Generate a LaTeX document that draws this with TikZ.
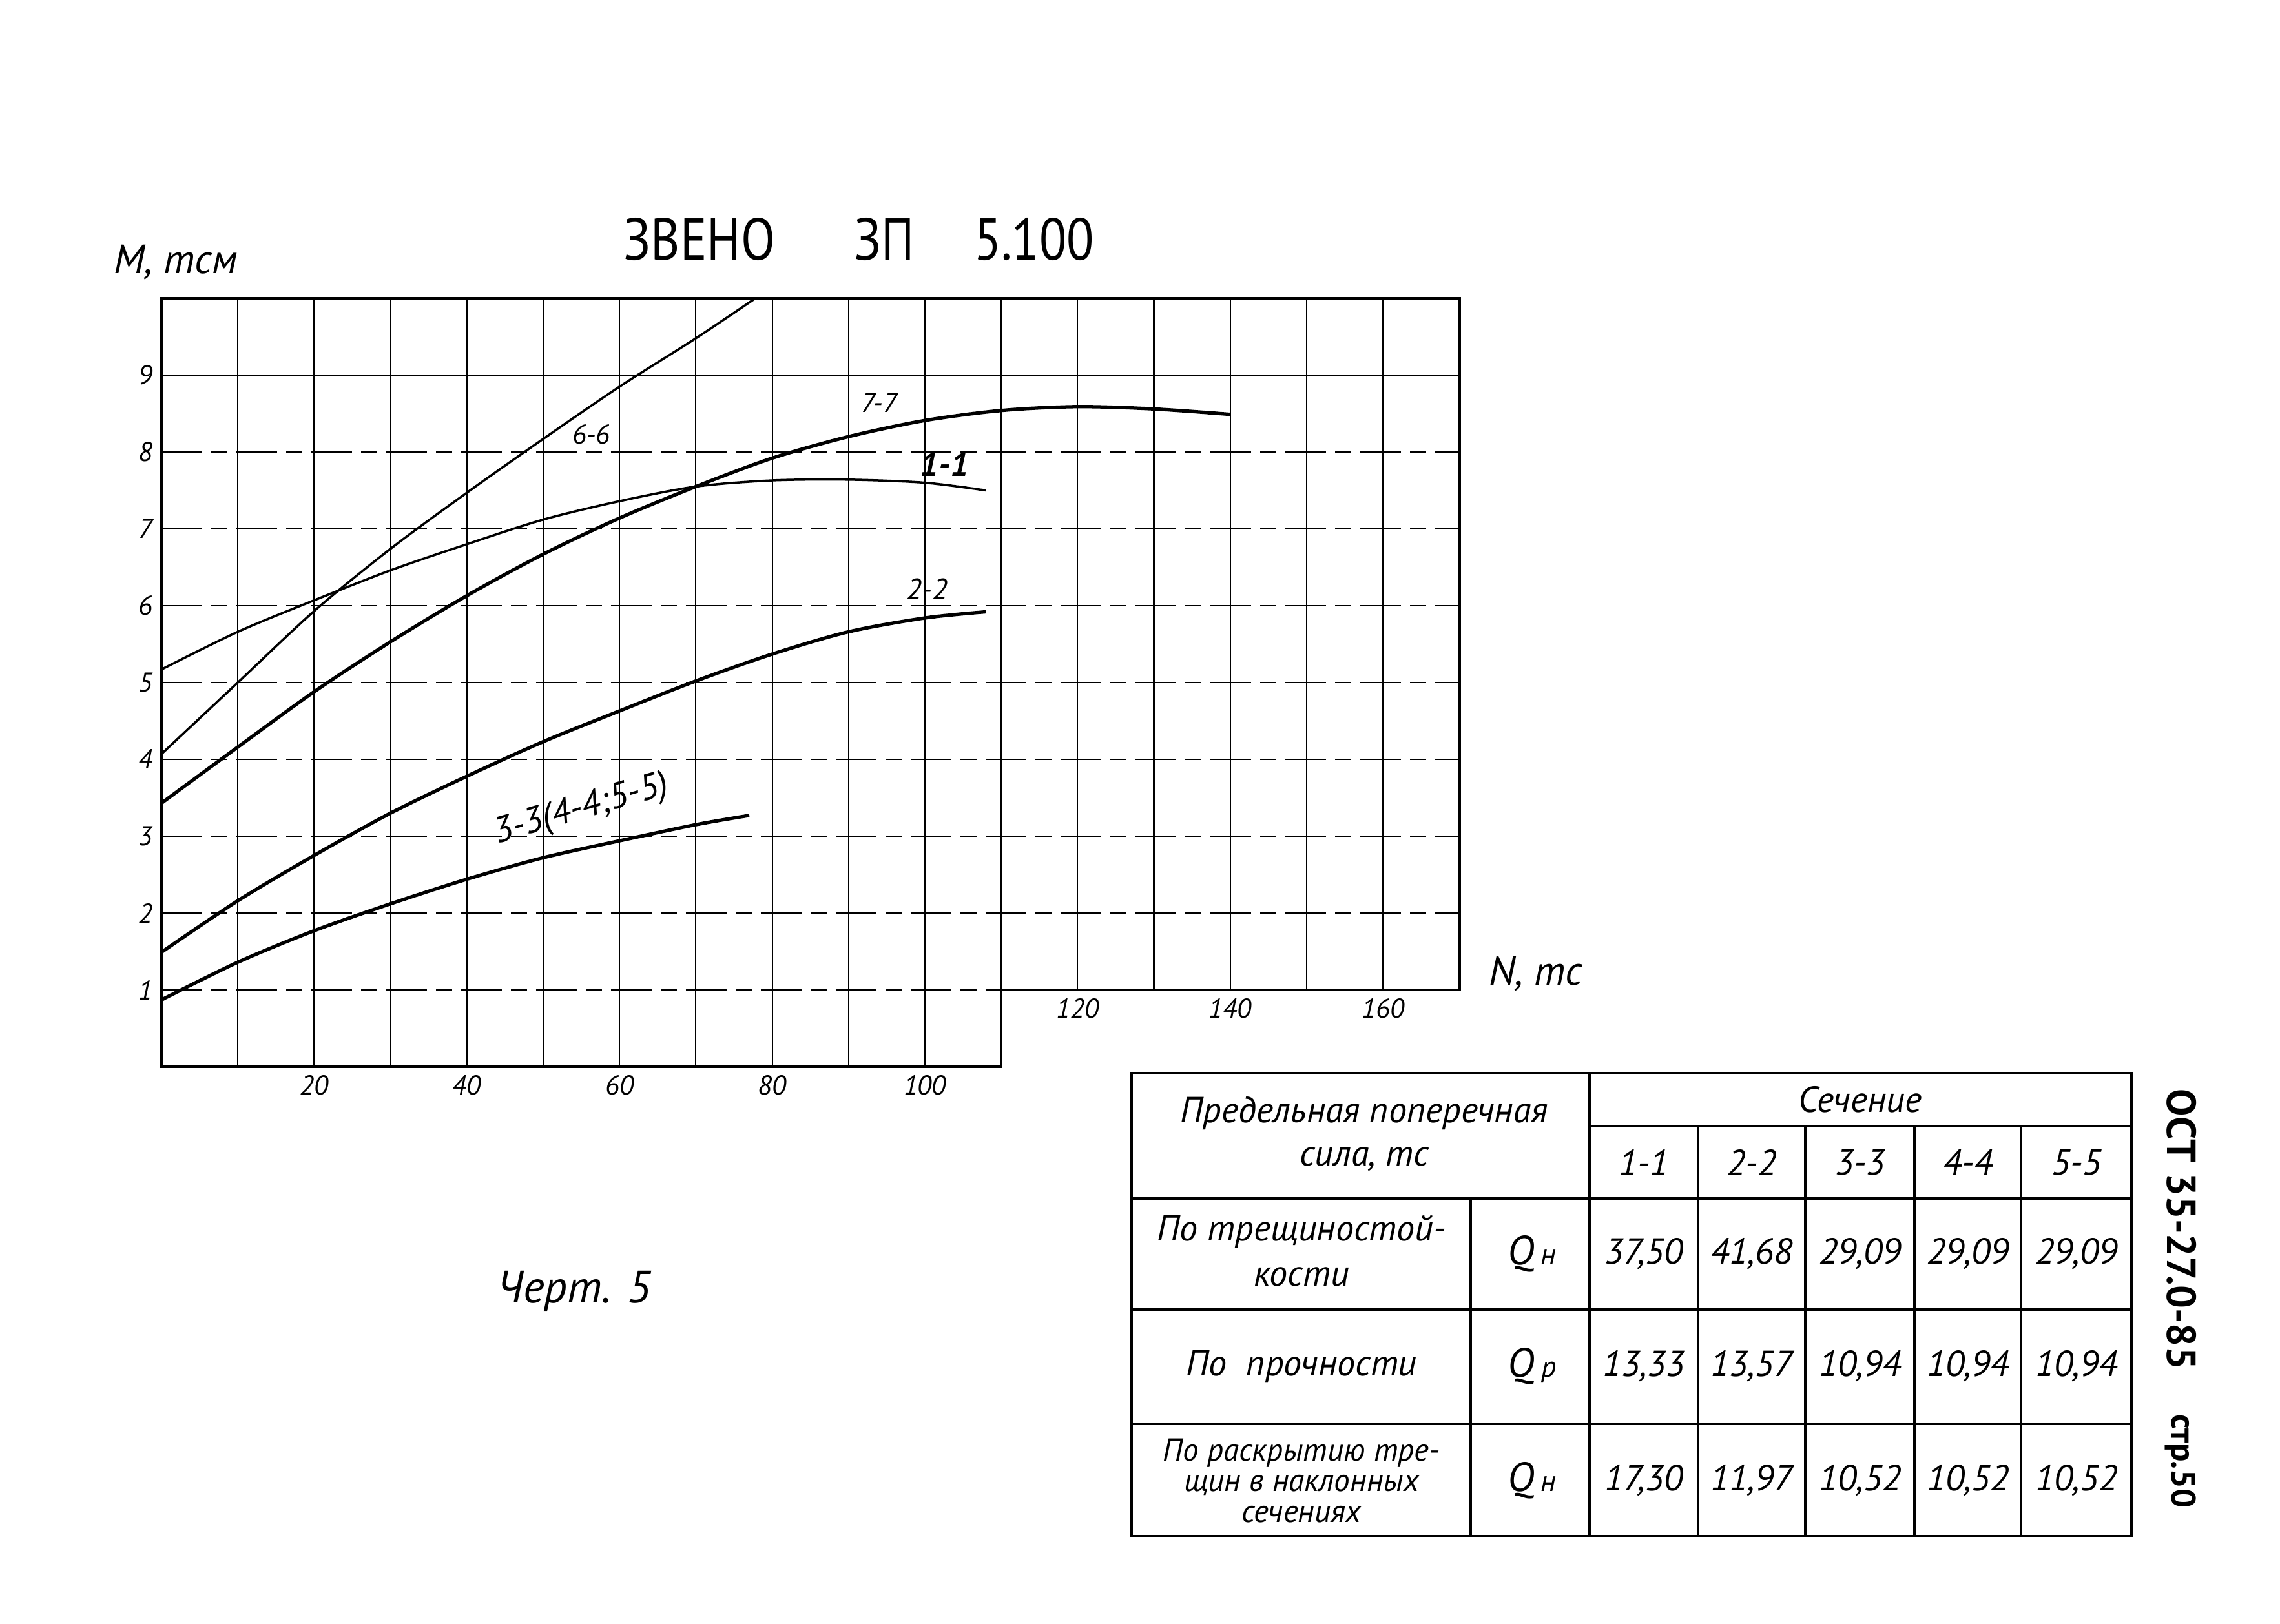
\documentclass[tikz,border=0pt]{standalone}
\usepackage{fontspec}
\usepackage{tikz}
\setmainfont{PT Sans}
\newfontfamily\titlefont[FakeStretch=0.85]{PT Sans}

\begin{document}
\begin{tikzpicture}[thick,
        gridline/.style={line width=0.6pt},
        gridhline/.style={line width=0.6pt, dash pattern=on 18pt off 4pt on 7pt off 4pt},
        chartframe/.style={line width=1.3pt},
        thincurve/.style={line width=1.0pt},
        boldcurve/.style={line width=1.5pt},
        every label/.style={font=\itshape\fontsize{12}{12}\selectfont},
        curvetext/.style={font=\itshape\fontsize{12}{12}\selectfont},
        handtext/.style={font=\itshape\fontsize{16}{19}\selectfont, align=center},
        numtext/.style={font=\itshape\fontsize{16}{16}\selectfont},
        titletext/.style={font=\titlefont\fontsize{26}{26}\selectfont},
        tableframe/.style={line width=1.3pt},
        tableline/.style={line width=1.0pt}]
        \useasboundingbox (0,0) rectangle (35.30,25.14);

        \node[titletext] (zveno) at (10.83,21.43) {ЗВЕНО};
        \node[titletext] (zp) at (13.69,21.43) {ЗП};
        \node[titletext] (num) at (16.01,21.43) {5.100};
        \node[font=\itshape\fontsize{18}{18}\selectfont] (axm) at (2.72,21.08) {M, тсм};
        \node[font=\itshape\fontsize{18}{18}\selectfont] (axn) at (23.78,10.06) {N, тс};
        \node[font=\itshape\fontsize{20}{20}\selectfont] (chert) at (8.89,5.14) {Черт. 5};

        \begin{scope}[shift={(2.5,8.62)}, x=0.1182cm, y=1.19cm]
        \coordinate[label=left:1] (m1) at (0,1);
        \coordinate[label=left:2] (m2) at (0,2);
        \coordinate[label=left:3] (m3) at (0,3);
        \coordinate[label=left:4] (m4) at (0,4);
        \coordinate[label=left:5] (m5) at (0,5);
        \coordinate[label=left:6] (m6) at (0,6);
        \coordinate[label=left:7] (m7) at (0,7);
        \coordinate[label=left:8] (m8) at (0,8);
        \coordinate[label=left:9] (m9) at (0,9);
        \coordinate[label=below:20] (n20) at (20,0);
        \coordinate[label=below:40] (n40) at (40,0);
        \coordinate[label=below:60] (n60) at (60,0);
        \coordinate[label=below:80] (n80) at (80,0);
        \coordinate[label=below:100] (n100) at (100,0);
        \coordinate[label=below:120] (n120) at (120,1);
        \coordinate[label=below:140] (n140) at (140,1);
        \coordinate[label=below:160] (n160) at (160,1);

        \draw[gridline] (10,0) -- (10,10);
        \draw[gridline] (20,0) -- (20,10);
        \draw[gridline] (30,0) -- (30,10);
        \draw[gridline] (40,0) -- (40,10);
        \draw[gridline] (50,0) -- (50,10);
        \draw[gridline] (60,0) -- (60,10);
        \draw[gridline] (70,0) -- (70,10);
        \draw[gridline] (80,0) -- (80,10);
        \draw[gridline] (90,0) -- (90,10);
        \draw[gridline] (100,0) -- (100,10);
        \draw[gridline] (110,1) -- (110,10);
        \draw[gridline] (120,1) -- (120,10);
        \draw[gridline] (130,1) -- (130,10);
        \draw[gridline] (140,1) -- (140,10);
        \draw[gridline] (150,1) -- (150,10);
        \draw[gridline] (160,1) -- (160,10);
        \draw[gridhline] (0,1) -- (110,1);
        \draw[gridhline] (0,2) -- (170,2);
        \draw[gridhline] (0,3) -- (170,3);
        \draw[gridhline] (0,4) -- (170,4);
        \draw[gridhline] (0,5) -- (170,5);
        \draw[gridhline] (0,6) -- (170,6);
        \draw[gridhline] (0,7) -- (170,7);
        \draw[gridhline] (0,8) -- (170,8);
        \draw[gridline] (0,9) -- (170,9);
        \draw[chartframe] (0,0) -- (110,0) -- (110,1) -- (170,1) -- (170,10) -- (0,10) -- cycle;

        \draw[thincurve] plot[smooth] coordinates {(0,4.07) (10,5.0) (20,5.93) (30,6.74) (40,7.47) (50,8.17) (60,8.85) (70,9.48) (77.8,10)};
        \draw[thincurve] plot[smooth] coordinates {(0,5.17) (10,5.66) (20,6.07) (30,6.46) (40,6.8) (50,7.12) (60,7.36) (70,7.55) (80,7.63) (90,7.64) (100,7.6) (108,7.5)};
        \draw[boldcurve] plot[smooth] coordinates {(0,3.43) (10,4.16) (20,4.88) (30,5.53) (40,6.13) (50,6.67) (60,7.14) (70,7.55) (80,7.92) (90,8.2) (100,8.41) (110,8.54) (120,8.59) (130,8.56) (140,8.49)};
        \draw[boldcurve] plot[smooth] coordinates {(0,1.49) (10,2.16) (20,2.75) (30,3.3) (40,3.78) (50,4.23) (60,4.63) (70,5.02) (80,5.37) (90,5.66) (100,5.84) (108,5.92)};
        \draw[boldcurve] plot[smooth] coordinates {(0,0.87) (10,1.36) (20,1.77) (30,2.12) (40,2.44) (50,2.72) (60,2.94) (70,3.15) (77,3.27)};

        \node[curvetext] (l66) at (56.3,8.23) {6-6};
        \node[curvetext] (l77) at (94,8.64) {7-7};
        \node[curvetext, font=\itshape\bfseries\fontsize{15}{15}\selectfont] (l11) at (102.6,7.84) {1-1};
        \node[curvetext, font=\itshape\fontsize{13}{13}\selectfont] (l22) at (100.3,6.22) {2-2};
        \node[curvetext, font=\itshape\fontsize{16}{16}\selectfont, rotate=16] (l33) at (55,3.34) {3-3(4-4;5-5)};
        \end{scope}

        \draw[tableframe] (17.52,8.52) rectangle (33.00,1.35);
        \draw[tableline] (24.61,8.52) -- (24.61,1.35);
        \draw[tableline] (24.61,7.70) -- (33.00,7.70);
        \draw[tableline] (17.52,6.58) -- (33.00,6.58);
        \draw[tableline] (17.52,4.86) -- (33.00,4.86);
        \draw[tableline] (17.52,3.09) -- (33.00,3.09);
        \draw[tableline] (22.77,6.58) -- (22.77,1.35);
        \draw[tableline] (26.29,7.70) -- (26.29,1.35);
        \draw[tableline] (27.95,7.70) -- (27.95,1.35);
        \draw[tableline] (29.64,7.70) -- (29.64,1.35);
        \draw[tableline] (31.29,7.70) -- (31.29,1.35);

        \node[handtext] (thead) at (21.12,7.58) {Предельная поперечная\\сила, тс};
        \node[handtext] (tsec) at (28.80,8.11) {Сечение};
        \node[numtext] (s11) at (25.45,7.14) {1-1};
        \node[numtext] (s22) at (27.12,7.14) {2-2};
        \node[numtext] (s33) at (28.80,7.14) {3-3};
        \node[numtext] (s44) at (30.47,7.14) {4-4};
        \node[numtext] (s55) at (32.15,7.14) {5-5};

        \node[handtext, font=\itshape\fontsize{16}{20}\selectfont] (r1) at (20.15,5.77) {По трещиностой-\\кости};
        \node[handtext] (r2) at (20.15,3.98) {По~~прочности};
        \node[handtext, font=\itshape\fontsize{14}{13.5}\selectfont] (r3) at (20.15,2.21) {По раскрытию тре-\\щин в наклонных\\сечениях};
        \node[font=\itshape\fontsize{18}{18}\selectfont] (q1) at (23.72,5.72) {Q\,{\fontsize{13}{13}\selectfont н}};
        \node[font=\itshape\fontsize{18}{18}\selectfont] (q2) at (23.72,3.98) {Q\,{\fontsize{13}{13}\selectfont р}};
        \node[font=\itshape\fontsize{18}{18}\selectfont] (q3) at (23.72,2.21) {Q\,{\fontsize{13}{13}\selectfont н}};

        \node[numtext] (v11) at (25.45,5.72) {37,50};
        \node[numtext] (v12) at (27.12,5.72) {41,68};
        \node[numtext] (v13) at (28.80,5.72) {29,09};
        \node[numtext] (v14) at (30.47,5.72) {29,09};
        \node[numtext] (v15) at (32.15,5.72) {29,09};
        \node[numtext] (v21) at (25.45,3.98) {13,33};
        \node[numtext] (v22) at (27.12,3.98) {13,57};
        \node[numtext] (v23) at (28.80,3.98) {10,94};
        \node[numtext] (v24) at (30.47,3.98) {10,94};
        \node[numtext] (v25) at (32.15,3.98) {10,94};
        \node[numtext] (v31) at (25.45,2.21) {17,30};
        \node[numtext] (v32) at (27.12,2.21) {11,97};
        \node[numtext] (v33) at (28.80,2.21) {10,52};
        \node[numtext] (v34) at (30.47,2.21) {10,52};
        \node[numtext] (v35) at (32.15,2.21) {10,52};

        \node[rotate=-90, font=\bfseries\fontsize{18}{18}\selectfont] (ost) at (33.78,6.10) {ОСТ 35-27.0-85};
        \node[rotate=-90, font=\bfseries\fontsize{15}{15}\selectfont] (page) at (33.76,2.51) {стр.50};
    \end{tikzpicture}
\end{document}
